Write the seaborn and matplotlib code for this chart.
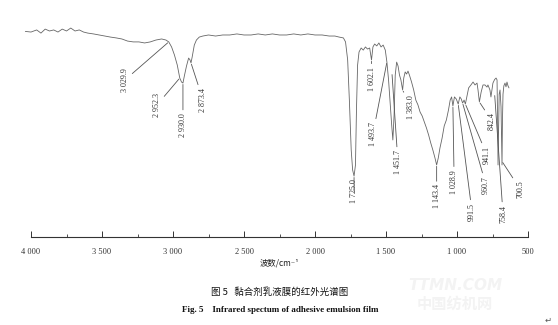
import matplotlib
matplotlib.use("Agg")
import matplotlib.pyplot as plt
import seaborn as sns
import pandas as pd

# ---- data ----
wavenumber = [4040, 4000, 3960, 3930, 3900, 3870, 3840, 3810, 3780, 3750, 3720,
              3690, 3660, 3630, 3600, 3560, 3520, 3480, 3440, 3400, 3360,
              3320, 3280, 3240, 3200, 3160, 3120, 3080, 3050, 3029.9, 3010,
              2990, 2970, 2952.3, 2940, 2930, 2920, 2905, 2890, 2880, 2873.4,
              2865, 2850, 2835, 2815, 2790, 2750, 2700, 2650, 2600, 2550,
              2500, 2450, 2400, 2350, 2300, 2250, 2200, 2150, 2100, 2050,
              2000, 1950, 1900, 1860, 1830, 1800, 1785, 1770, 1758, 1745,
              1735, 1725, 1715, 1708, 1700, 1690, 1675, 1660, 1645, 1630,
              1615, 1602.1, 1592, 1580, 1565, 1550, 1535, 1520, 1505, 1493.7,
              1482, 1470, 1460, 1451.7, 1443, 1435, 1425, 1415, 1405, 1395,
              1383, 1375, 1365, 1355, 1345, 1335, 1320, 1305, 1290, 1275,
              1260, 1245, 1230, 1215, 1200, 1185, 1170, 1155, 1143.4, 1132,
              1120, 1105, 1090, 1075, 1060, 1048, 1038, 1028.9, 1018, 1005,
              991.5, 980, 970, 960.7, 950, 941.1, 930, 918, 902, 887,
              873, 859, 852, 842.4, 830, 817, 803, 789, 782, 768,
              761, 747, 735, 725, 718, 714, 711, 707, 703, 697,
              690, 686, 683, 680, 676, 670, 662, 655, 648, 641, 634]
transmittance = [97.9, 97.6, 98.6, 97.1, 99.0, 98.1, 98.6, 97.6, 99.0, 98.1, 99.5,
                 98.1, 98.6, 97.6, 97.1, 96.7, 96.2, 95.7, 95.2, 94.8, 94.3,
                 93.3, 92.9, 92.9, 92.4, 92.9, 93.8, 94.3, 93.8, 92.9, 90.5,
                 86.7, 81.9, 75.7, 73.8, 73.3, 76.7, 81.4, 85.2, 84.3, 82.9,
                 85.7, 91.4, 93.8, 95.2, 95.7, 96.2, 95.7, 96.2, 96.2, 96.7,
                 96.2, 96.2, 96.7, 96.2, 96.7, 96.2, 96.2, 96.7, 96.2, 96.7,
                 96.2, 96.2, 95.7, 95.7, 95.2, 94.8, 92.9, 84.3, 65.2, 41.4,
                 31.9, 29.0, 34.3, 60.5, 81.9, 88.1, 90.0, 89.0, 90.5, 89.5,
                 90.0, 84.3, 90.5, 91.9, 91.0, 92.4, 90.5, 91.4, 89.0, 83.3,
                 74.8, 62.9, 53.3, 46.2, 58.1, 77.1, 83.3, 81.4, 77.1, 74.8,
                 70.0, 75.7, 78.6, 77.6, 79.0, 77.1, 73.8, 70.0, 65.2, 62.9,
                 59.5, 57.6, 54.8, 51.9, 48.6, 44.8, 41.4, 37.6, 34.3, 37.6,
                 42.4, 47.1, 52.9, 55.7, 60.5, 65.2, 66.7, 62.4, 66.7, 65.7,
                 63.3, 66.7, 65.7, 63.8, 65.2, 63.3, 67.1, 71.0, 72.4, 73.8,
                 72.4, 73.3, 70.0, 64.3, 69.0, 72.4, 72.4, 71.4, 72.4, 70.0,
                 66.7, 73.3, 75.0, 75.7, 74.8, 55.0, 34.3, 50.0, 68.0, 70.0,
                 62.0, 45.0, 34.3, 55.0, 68.0, 72.0, 73.3, 71.5, 73.8, 72.0, 71.0]

peak_labels = ["3 029.9", "2 952.3", "2 930.0", "2 873.4", "1 725.0", "1 602.1",
               "1 493.7", "1 451.7", "1 383.0", "1 143.4", "1 028.9", "991.5",
               "960.7", "941.1", "842.4", "758.4", "700.5"]

xticks = [4000, 3500, 3000, 2500, 2000, 1500, 1000, 500]
xtick_labels = ["4 000", "3 500", "3 000", "2 500", "2 000", "1 500", "1 000", "500"]

# leader start points on the curve and label anchors (top of rotated text), data coords
leader_start = [(3029.9, 92.9), (2952.3, 75.7), (2930, 73.3), (2873.4, 82.9),
                (1725, 29.0), (1602.1, 84.3), (1493.7, 83.3), (1458, 78.0),
                (1383, 70.0), (1143.4, 34.3), (1028.9, 62.4), (991.5, 63.3),
                (960.7, 63.8), (941.1, 63.3), (842.4, 64.3), (735, 68.0),
                (683, 36.0)]
label_pos = [(3338, 80.5), (3113, 68.6), (2930, 59.0), (2789, 71.0),
             (1725, 27.5), (1602, 81.0), (1592, 54.8), (1416, 41.4),
             (1324, 67.6), (1143.4, 25.0), (1020, 32.0), (894, 16.2),
             (796, 29.0), (789, 43.3), (754, 59.5), (676, 15.2), (556, 27.1)]

# ---- plot ----
sns.set_theme(style="white")
plt.rcParams['font.family'] = ['Liberation Serif', 'DejaVu Sans']

fig = plt.figure(figsize=(5.58, 3.25), dpi=100)
ax = fig.add_axes([31 / 558, (325 - 237) / 325, 497 / 558, 210 / 325])

df = pd.DataFrame({"wn": wavenumber, "T": transmittance})
sns.lineplot(data=df, x="wn", y="T", ax=ax, color="#666666", linewidth=0.6,
             estimator=None, sort=True, clip_on=False)

ax.set_xlim(4000, 500)
ax.set_ylim(0, 100)
for s in ["top", "left", "right"]:
    ax.spines[s].set_visible(False)
ax.spines["bottom"].set_color("#333333")
ax.spines["bottom"].set_linewidth(0.8)
ax.set_yticks([])
ax.set_ylabel("")
ax.set_xlabel("")
ax.set_xticks(xticks)
ax.set_xticklabels(xtick_labels, fontsize=6, color="#333333")
ax.set_xticks([3750, 3250, 2750, 2250, 1750, 1250, 750], minor=True)
ax.tick_params(axis="x", which="major", direction="in", length=4, width=0.7,
               color="#333333", pad=8, bottom=True)
ax.tick_params(axis="x", which="minor", direction="in", length=2, width=0.6,
               color="#333333", bottom=True)

for lab, start, pos in zip(peak_labels, leader_start, label_pos):
    ax.annotate(lab, xy=start, xytext=pos, rotation=90,
                ha="center", va="top", fontsize=5.8, color="#333333",
                arrowprops=dict(arrowstyle="-", color="#555555", lw=0.6,
                                shrinkA=0, shrinkB=1))

cjk = ['Noto Sans CJK SC', 'DejaVu Sans']
fig.text(280 / 558, 1 - 263 / 325, "波数/cm⁻¹", ha="center", va="center",
         fontsize=6, family=cjk, color="#222222")
fig.text(280 / 558, 1 - 292 / 325, "图 5   黏合剂乳液膜的红外光谱图", ha="center",
         va="center", fontsize=6.8, family=cjk, color="#111111")
fig.text(280 / 558, 1 - 310 / 325, "Fig. 5    Infrared spectum of adhesive emulsion film",
         ha="center", va="center", fontsize=6.5, family=['Liberation Serif'],
         weight="bold", color="#111111")

# faint watermark
fig.text(455 / 558, 1 - 285 / 325, "TTMN.COM", ha="center", va="center",
         fontsize=11, family=['DejaVu Sans'], weight="bold", style="italic",
         color="#f3f3f3")
fig.text(455 / 558, 1 - 304 / 325, "中国纺机网", ha="center", va="center",
         fontsize=11, family=cjk, weight="bold", color="#f3f3f3")
fig.text(548 / 558, 1 - 320 / 325, "↵", ha="center", va="center",
         fontsize=6, family=['DejaVu Sans'], color="#555555")

fig.savefig("out.png", dpi=100)
